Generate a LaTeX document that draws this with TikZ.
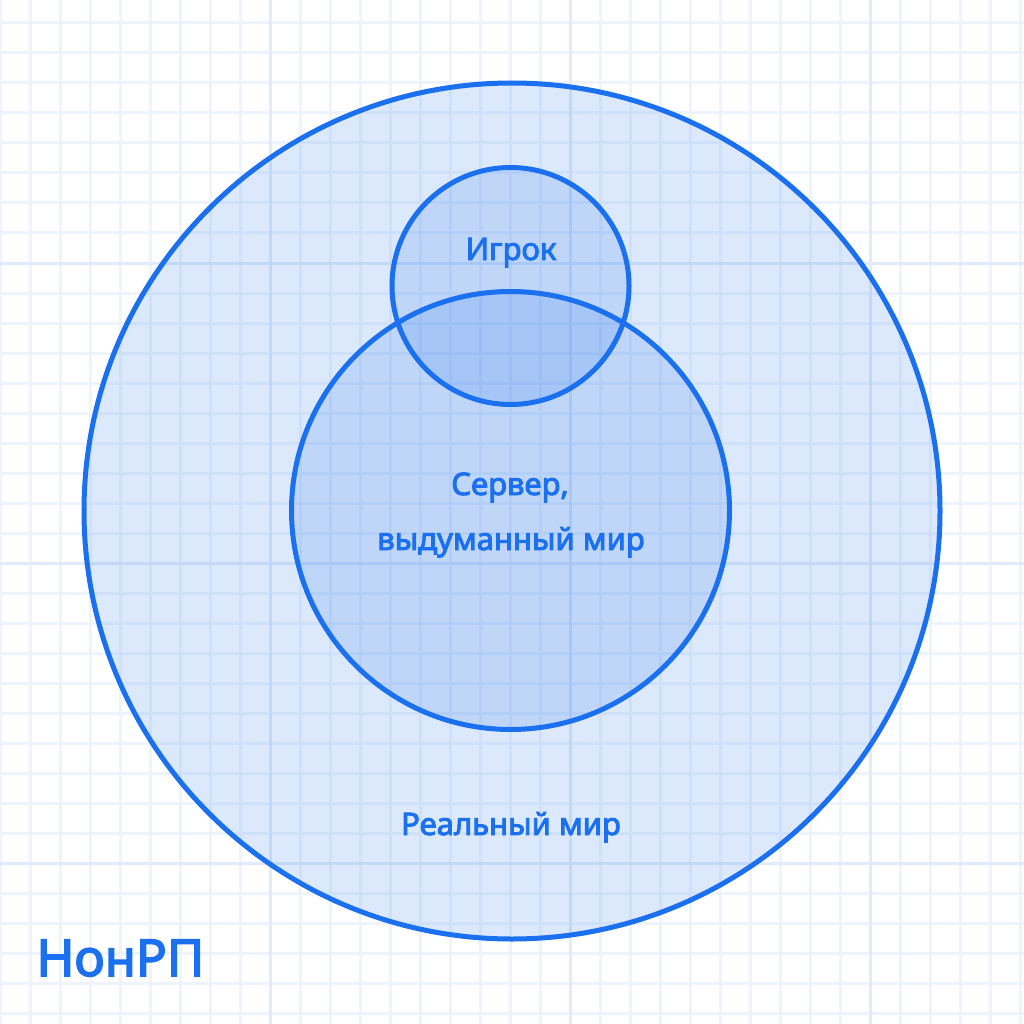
\documentclass[tikz,border=0pt]{standalone}
\usepackage{fontspec}
\setmainfont{Noto Sans}
\newfontfamily\setfont{Noto Sans}[FakeBold=3]
\usepackage{tikz}
\definecolor{venblue}{RGB}{26,112,238}
\definecolor{gridminor}{RGB}{238,244,253}
\definecolor{gridmajor}{RGB}{225,235,251}
\usetikzlibrary{positioning}
\tikzset{set circle/.style={
    circle,
    draw=venblue,
    line width=5pt,
    fill=venblue,
    fill opacity=0.15,
    draw opacity=1,
    inner sep=0pt,
    minimum size=#1
  },
  set label/.style={
    text=venblue,
    font=\setfont\fontsize{31}{31}\selectfont,
    anchor=base
  }
}

\begin{document}
\begin{tikzpicture}[x=1pt,y=-1pt]
      \useasboundingbox (0,0) rectangle (1024,1024);
      \fill[white] (0,0) rectangle (1024,1024);
      % grid
      \foreach \gx in {0,30,...,1020}
        \draw[gridminor,line width=3pt] (\gx,0) -- (\gx,1024);
      \foreach \gy in {23,53,...,1013}
        \draw[gridminor,line width=3pt] (0,\gy) -- (1024,\gy);
      \foreach \gx in {270,570,870}
        \draw[gridmajor,line width=3pt] (\gx,0) -- (\gx,1024);
      \foreach \gy in {263,563,863}
        \draw[gridmajor,line width=3pt] (0,\gy) -- (1024,\gy);
      % sets
      \node[set circle=856pt] (real) at (512,511) {};
      \node[set circle=438pt] (server) at (510.5,510.5) {};
      \node[set circle=237pt] (player) at (510.5,286) {};
      % labels
      \node[set label] (playerlabel) at (511,260) {Игрок};
      \node[set label] (serverlabel) at (510,495) {Сервер,};
      \node[set label] (worldlabel) at (511,550) {выдуманный мир};
      \node[set label] (reallabel) at (511,835) {Реальный мир};
      \node[set label,anchor=base west,font=\setfont\fontsize{51}{51}\selectfont] (title) at (33,976) {НонРП};
\end{tikzpicture}
\end{document}
